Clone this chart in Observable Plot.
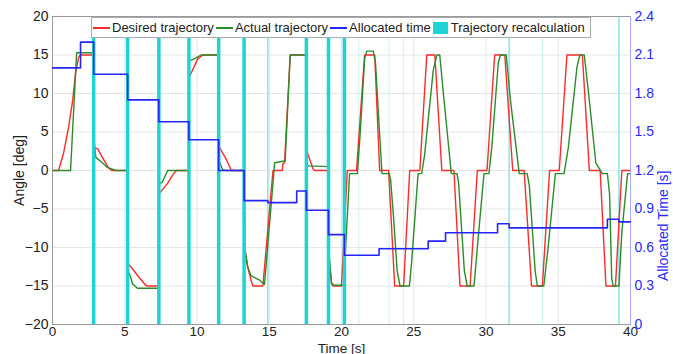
<!DOCTYPE html>
<html><head><meta charset="utf-8">
<script src="https://cdn.jsdelivr.net/npm/d3@7"></script>
<script src="https://cdn.jsdelivr.net/npm/@observablehq/plot@0.6"></script>
<style>
body{margin:0;background:#fff;font-family:"Liberation Sans",Arial,sans-serif;}
#wrap{position:relative;width:673px;height:354px;overflow:hidden;}
#wrap svg{position:absolute;left:0;top:0;}
#legend{position:absolute;left:91px;top:17px;height:19px;border:1px solid #aaa;background:#fff;display:flex;align-items:center;font-size:13px;color:#222;padding:0 3px 0 1px;white-space:nowrap;}
#legend .it{display:flex;align-items:center;margin-right:2px;}
#legend .ln{display:inline-block;width:17px;height:2px;margin-right:2px;}
#legend .sq{display:inline-block;width:15px;height:12px;margin-right:3px;}
</style></head>
<body><div id="wrap"></div>
<script>
// ---- data ----
const xTicks = [0,5,10,15,20,25,30,35,40];
const yTicks = [-20,-15,-10,-5,0,5,10,15,20];
const tTicks = [0,0.3,0.6,0.9,1.2,1.5,1.8,2.1,2.4];

// desired trajectory [time s, angle deg]
const desired = [[0,0],[0.42,0],[0.76,2.2],[1.11,5.6],[1.39,9],[1.6,12.7],[1.81,14.7],[1.94,15],[2.85,15],
 [2.87,3.0],[3.13,2.8],[3.45,1.7],[3.89,0.3],[4.1,0],[5.2,0],
 [5.22,-12.1],[5.42,-12.5],[6.0,-13.9],[6.45,-14.9],[6.6,-15],[7.36,-15],
 [7.38,-3.0],[7.95,-1.7],[8.42,-0.3],[8.6,0],[9.44,0],
 [9.46,12.1],[10.05,14.5],[10.4,15],[11.53,15],
 [11.55,3.0],[12.01,1.5],[12.36,0.1],[12.5,0],[13.26,0],
 [13.3,-10],[13.52,-12.6],[13.75,-14.3],[13.87,-15],[14.56,-15],[15.26,0],[15.9,0],[15.95,0.9],[16.06,1.0],[16.45,15],[17.55,15],
 [17.59,2.6],[18.03,0.2],[18.15,0],[19.1,0],
 [19.15,-12],[19.31,-14.7],[19.4,-15],[20.0,-15],[20.4,0],[21.04,0],[21.6,15],[22.3,15],[22.64,0],[23.26,0],[23.68,-15],[24.3,-15],
 [24.72,0],[25.42,0],[25.9,15],[26.46,15],[26.94,0],[27.78,0],[28.2,-15],[28.9,-15],[29.4,0],[30.07,0],[30.6,15],[31.3,15],
 [31.85,0],[32.64,0],[33.15,-15],[33.9,-15],[34.4,0],[35.07,0],[35.6,15],[36.67,15],[37.15,0],[37.9,0],[38.3,-15],[38.96,-15],[39.4,0],[40,0]];

// actual trajectory [time s, angle deg]
const actual = [[0,0],[1.25,0],[1.67,15.3],[2.85,15.3],
 [2.87,4.0],[3.0,1.7],[3.45,1.0],[3.8,0.4],[4.38,0],[5.2,0],
 [5.22,-13],[5.42,-13.9],[5.53,-14.7],[5.88,-15.3],[7.36,-15.3],
 [7.38,-1.8],[7.6,-1.5],[7.97,0],[9.44,0],
 [9.46,14.2],[9.9,14.6],[10.28,15],[11.53,15],
 [11.55,1.1],[11.78,0.1],[12.0,0],[13.26,0],
 [13.3,-10],[13.5,-12.5],[13.75,-13.7],[14.3,-14.2],[14.67,-14.8],[15.33,0],[15.37,1.0],[15.95,1.2],[16.1,1.2],[16.45,15],[17.55,15],
 [17.59,0.9],[17.7,0.6],[19.1,0.5],[19.15,-11],[19.31,-14.6],[19.5,-14.9],[20.15,-14.9],[20.56,-0.4],[21.1,-0.4],[21.3,5],[21.6,14.5],
 [21.75,15.5],[22.2,15.5],[22.35,14],[22.8,-0.4],[23.3,-0.4],[23.4,-1.2],[23.6,-6],[23.85,-13],[24.05,-15],[24.7,-15],[24.85,-12],
 [25.3,-0.4],[25.55,-0.4],[25.75,2],[26.35,13],[26.6,15],[26.8,15],[27.05,10],[27.6,-0.4],[27.99,-0.4],[28.1,-1.5],[28.5,-13],
 [28.7,-15],[29.17,-15],[29.4,-10],[29.86,-0.4],[30.2,-0.4],[30.4,3],[30.85,14],[31.0,15],[31.4,15],[31.7,9],[32.3,-0.4],[32.85,-0.4],
 [33.0,-2],[33.4,-13],[33.55,-15],[34.0,-15],[34.3,-10],[34.8,-0.4],[35.4,-0.4],[35.7,3],[36.3,13.5],[36.5,15],[36.8,15],[37.1,10],
 [37.6,1],[38.05,-0.4],[38.4,-0.4],[38.55,-3],[38.7,-14],[38.8,-15],[39.2,-15],[39.4,-8],[39.8,-0.4],[40,-0.4]];

// allocated time steps [time s, allocated s]
const allocated = [[0,2.0],[1.94,2.2],[2.85,1.95],[5.2,1.75],[7.36,1.58],[9.44,1.44],[11.5,1.2],[13.26,0.965],[14.9,0.95],
 [16.9,1.04],[17.57,0.89],[19.1,0.70],[20.2,0.54],[22.6,0.59],[26.0,0.65],[27.2,0.715],[30.8,0.785],[31.6,0.753],
 [38.4,0.82],[39.2,0.80],[40,0.80]];

// trajectory recalculation instants
const recalcMajor = [2.85,5.2,7.36,9.44,11.5,13.26,17.57,19.1,20.2];
const recalcMedium = [14.9,31.6,39.2];
const recalcFaint = [21.2,23.3,24.3,33.9];

const seriesNames = ["Desired trajectory","Actual trajectory","Allocated time","Trajectory recalculation"];
const seriesColors = ["#ff2a2a","#2a8c2a","#2424ff","#1fd2d4"];
const rightLabel = ["Allocated Time [s]"];

// ---- chart ----
const W = 673, H = 354;
const margins = {marginTop:16, marginRight:43, marginBottom:30, marginLeft:52};
const font = "Liberation Sans, Arial, sans-serif";

const p1 = Plot.plot({
  width: W, height: H, ...margins,
  style: {fontFamily: font, fontSize: "13px", color: "#222", background: "transparent"},
  x: {domain: [0, 40]},
  y: {domain: [-20, 20]},
  marks: [
    Plot.gridX(xTicks, {stroke: "#e6e6e6", strokeOpacity: 1}),
    Plot.gridY(yTicks, {stroke: "#e6e6e6", strokeOpacity: 1}),
    Plot.ruleX(recalcFaint, {stroke: "#c6f4f4", strokeWidth: 1}),
    Plot.ruleX(recalcMedium, {stroke: "#86e8e8", strokeWidth: 1.5}),
    Plot.line(desired, {x: d => d[0], y: d => d[1], stroke: seriesColors[0], strokeWidth: 1.4}),
    Plot.line(actual, {x: d => d[0], y: d => d[1], stroke: seriesColors[1], strokeWidth: 1.4}),
    Plot.ruleX(recalcMajor, {stroke: seriesColors[3], strokeWidth: 3.5}),
    Plot.frame({stroke: "#9a9a9a"}),
    Plot.axisX(xTicks, {tickSize: 0, tickPadding: 2, fontSize: 13.5, label: "Time [s]", labelAnchor: "center", labelArrow: "none", labelOffset: 28}),
    Plot.axisY(yTicks, {tickSize: 0, tickPadding: 4, fontSize: 14, label: "Angle [deg]", labelAnchor: "center", labelArrow: "none", labelOffset: 38})
  ]
});

const p2 = Plot.plot({
  width: W, height: H, ...margins,
  style: {fontFamily: font, fontSize: "13px", color: "#2a2aff", background: "transparent"},
  x: {domain: [0, 40], axis: null},
  y: {domain: [0, 2.4], axis: null},
  marks: [
    Plot.frame({anchor: "right", stroke: "#a8a8ff"}),
    Plot.line(allocated, {x: d => d[0], y: d => d[1], curve: "step-after", stroke: seriesColors[2], strokeWidth: 1.6}),
    Plot.axisY(tTicks, {anchor: "right", tickSize: 0, tickPadding: 4, fontSize: 14, color: "#2a2aff",
      tickFormat: d => d === 0 ? "0" : d.toFixed(1), label: null}),
    Plot.text(rightLabel, {frameAnchor: "right", text: d => d, rotate: -90, dx: 33, fontSize: 14, fill: "#2a2aff"})
  ]
});

const wrap = document.getElementById("wrap");
wrap.appendChild(p1);
wrap.appendChild(p2);

// legend
const lg = document.createElement("div");
lg.id = "legend";
seriesNames.forEach((name, i) => {
  const it = document.createElement("span");
  it.className = "it";
  const sw = document.createElement("span");
  sw.className = i === 3 ? "sq" : "ln";
  sw.style.background = seriesColors[i];
  it.appendChild(sw);
  it.appendChild(document.createTextNode(name));
  lg.appendChild(it);
});
wrap.appendChild(lg);
</script>
</body></html>
